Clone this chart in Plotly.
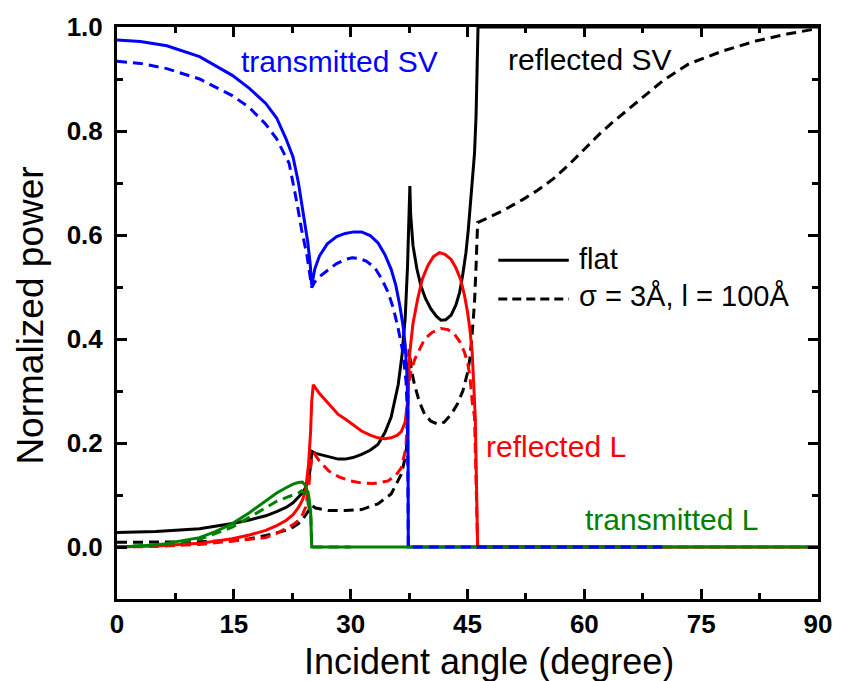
import plotly.graph_objects as go

# Incident angle (degree) and normalized power for each mode.
# "flat" = smooth interface, "rough" = sigma 3 A, correlation length 100 A.

# transmitted SV
tsv_flat_x = [0, 3, 6.4, 10.6, 14.8, 17, 19.1, 20.5, 21.7, 22.6, 23.3, 24.0, 24.5, 24.8, 25.0,
              25.4, 26.0, 27.0, 28.2, 29.3, 30.4, 31.4, 32.5, 33.5, 34.4, 35.2, 35.8, 36.3, 36.7,
              37.0, 37.2, 37.35, 37.4, 50, 60, 70]
tsv_flat_y = [0.975, 0.972, 0.964, 0.943, 0.907, 0.882, 0.853, 0.825, 0.785, 0.75, 0.70, 0.63,
              0.585, 0.545, 0.503, 0.535, 0.56, 0.583, 0.597, 0.603, 0.606, 0.606, 0.599, 0.585,
              0.562, 0.534, 0.503, 0.465, 0.428, 0.388, 0.34, 0.27, 0.0, 0.0, 0.0, 0.0]

tsv_rough_x = [0, 3, 6.4, 10.6, 14.8, 17, 19.1, 20.5, 21.5, 22.1, 23.1, 23.7, 24.4, 24.8, 25.0,
               25.4, 26.0, 27.2, 28.2, 29.3, 30.2, 31.0, 32.0, 33.1, 34.0, 34.8, 35.5, 36.1, 36.7,
               37.1, 37.3, 37.4, 50, 60, 70]
tsv_rough_y = [0.934, 0.93, 0.92, 0.90, 0.868, 0.845, 0.813, 0.785, 0.755, 0.738, 0.662, 0.61,
               0.56, 0.525, 0.499, 0.51, 0.52, 0.534, 0.545, 0.553, 0.556, 0.555, 0.55, 0.537,
               0.515, 0.49, 0.458, 0.42, 0.375, 0.32, 0.25, 0.0, 0.0, 0.0, 0.0]

# reflected L
rl_flat_x = [0, 5, 10.6, 14.8, 17, 19.1, 20.5, 21.7, 22.6, 23.3, 23.8, 24.2, 24.6, 24.85, 25.0,
             25.2, 26.0, 27.0, 28.4, 29.3, 30.3, 31.4, 32.5, 33.5, 34.4, 35.2, 36.0, 36.5, 37.0,
             37.3, 37.6, 38.0, 38.6, 39.2, 39.9, 40.6, 41.4, 42.1, 42.9, 43.5, 44.1, 44.6, 45.0,
             45.3, 45.6, 45.8, 46.0, 46.3, 60, 75, 90]
rl_flat_y = [0.0, 0.002, 0.007, 0.016, 0.023, 0.032, 0.041, 0.051, 0.062, 0.076, 0.09, 0.108,
             0.16, 0.22, 0.28, 0.312, 0.295, 0.278, 0.255, 0.246, 0.235, 0.223, 0.215, 0.21,
             0.208, 0.21, 0.215, 0.222, 0.24, 0.28, 0.375, 0.43, 0.477, 0.515, 0.541, 0.558,
             0.566, 0.563, 0.553, 0.537, 0.515, 0.485, 0.452, 0.42, 0.375, 0.32, 0.248, 0.0,
             0.0, 0.0, 0.0]

rl_rough_x = [0, 5, 10.6, 14.8, 17, 19.1, 20.5, 21.7, 22.6, 23.3, 23.8, 24.2, 24.6, 24.9, 25.1,
              25.3, 26.0, 27.2, 28.5, 30.0, 31.4, 33.0, 34.8, 35.8, 36.5, 37.1, 37.4, 37.6, 38.2,
              39.0, 39.5, 40.5, 41.6, 42.5, 43.3, 44.0, 44.6, 45.0, 45.3, 45.6, 45.9, 46.3, 60,
              75, 90]
rl_rough_y = [0.0, 0.001, 0.005, 0.011, 0.014, 0.018, 0.026, 0.035, 0.043, 0.051, 0.062, 0.076,
              0.114, 0.16, 0.178, 0.18, 0.165, 0.146, 0.135, 0.127, 0.123, 0.122, 0.127, 0.138,
              0.152, 0.19, 0.30, 0.33, 0.36, 0.385, 0.40, 0.413, 0.42, 0.418, 0.41, 0.395,
              0.375, 0.355, 0.33, 0.28, 0.25, 0.0, 0.0, 0.0, 0.0]

# reflected SV
rsv_flat_x = [0, 5, 10.6, 14.8, 17, 19.1, 20.5, 21.7, 22.6, 23.3, 23.8, 24.2, 24.6, 24.9, 25.0,
              25.5, 26.0, 27.2, 28.4, 29.3, 30.3, 31.4, 32.5, 33.5, 34.4, 35.2, 36.1, 36.6, 37.0,
              37.3, 37.5, 37.6, 37.7, 38.0, 38.5, 39.0, 39.6, 40.3, 41.0, 41.6, 42.2, 42.9, 43.5,
              44.0, 44.4, 44.8, 45.1, 45.4, 45.7, 45.9, 46.1, 46.25, 46.35, 60, 75, 90]
rsv_flat_y = [0.028, 0.03, 0.035, 0.045, 0.052, 0.06, 0.068, 0.076, 0.085, 0.095, 0.104, 0.114,
              0.13, 0.16, 0.184, 0.18, 0.178, 0.174, 0.169, 0.169, 0.172, 0.178, 0.186, 0.197,
              0.22, 0.25, 0.312, 0.37, 0.44, 0.54, 0.65, 0.694, 0.64, 0.58, 0.535, 0.503, 0.478,
              0.458, 0.444, 0.436, 0.437, 0.446, 0.465, 0.49, 0.525, 0.566, 0.61, 0.662, 0.72,
              0.757, 0.83, 0.92, 1.0, 1.0, 1.0, 1.0]

rsv_rough_x = [0, 5, 10.6, 14.8, 17, 19.1, 20.5, 21.7, 22.6, 23.3, 23.8, 24.2, 24.6, 25.0, 25.5,
               27.2, 29.3, 31.4, 33.5, 35.2, 36.5, 37.1, 37.3, 37.45, 37.5, 37.8, 38.2, 38.8,
               39.5, 40.3, 41.2, 42.0, 42.9, 43.7, 44.4, 45.0, 45.3, 45.6, 45.9, 46.1, 46.3,
               47.2, 49.7, 52.3, 54.0, 56.0, 58.0, 60.0, 62.0, 63.5, 65.0, 67.6, 70.1, 73.4,
               77.8, 82.0, 86.2, 90]
rsv_rough_y = [0.009, 0.009, 0.01, 0.012, 0.016, 0.022, 0.027, 0.032, 0.038, 0.045, 0.052, 0.06,
               0.07, 0.08, 0.075, 0.07, 0.07, 0.072, 0.083, 0.102, 0.14, 0.178, 0.22, 0.36, 0.38,
               0.34, 0.312, 0.28, 0.255, 0.242, 0.236, 0.24, 0.255, 0.275, 0.30, 0.335, 0.362,
               0.41, 0.47, 0.54, 0.624, 0.63, 0.648, 0.67, 0.686, 0.708, 0.735, 0.765, 0.795,
               0.815, 0.834, 0.866, 0.897, 0.929, 0.954, 0.973, 0.987, 0.997]

# transmitted L
tl_flat_x = [0, 3, 6, 8.5, 10.6, 12.7, 14.8, 17, 19.1, 20.5, 21.7, 22.6, 23.3, 23.8, 24.2, 24.6,
             24.85, 25.0, 60, 90]
tl_flat_y = [0.0, 0.002, 0.006, 0.012, 0.018, 0.03, 0.045, 0.066, 0.089, 0.104, 0.114, 0.121,
             0.124, 0.125, 0.118, 0.10, 0.07, 0.0, 0.0, 0.0]

tl_rough_x = [0, 6, 10.6, 14.8, 17, 19.1, 20.5, 21.7, 22.6, 23.3, 23.7, 24.1, 24.4, 24.7, 24.9,
              25.0, 30]
tl_rough_y = [0.0, 0.005, 0.015, 0.038, 0.057, 0.076, 0.088, 0.095, 0.1, 0.104, 0.108, 0.104,
              0.095, 0.075, 0.057, 0.0, 0.0]

x_ticks = [0, 15, 30, 45, 60, 75, 90]
y_ticks = [0.0, 0.2, 0.4, 0.6, 0.8, 1.0]

BLUE, RED, GREEN, BLACK = "#0000ff", "#ff0000", "#008000", "#000000"
DASH = "10px,6px"
LW = 3

W, H = 844, 681
ML, MR, MT, MB = 117, 21, 23, 82
PW, PH = W - ML - MR, H - MT - MB


def paper_x(px):
    return (px - ML) / PW


def paper_y(py):
    return (H - MB - py) / PH


fig = go.Figure()


def add(x, y, color, dashed):
    fig.add_trace(go.Scatter(
        x=x, y=y, mode="lines", showlegend=False, hoverinfo="skip",
        line=dict(color=color, width=LW, dash=DASH if dashed else "solid"),
    ))


add(rsv_flat_x, rsv_flat_y, BLACK, False)
add(rsv_rough_x, rsv_rough_y, BLACK, True)
add(rl_flat_x, rl_flat_y, RED, False)
add(rl_rough_x, rl_rough_y, RED, True)
add(tsv_flat_x, tsv_flat_y, BLUE, False)
add(tl_flat_x, tl_flat_y, GREEN, False)
add(tl_rough_x, tl_rough_y, GREEN, True)
add(tsv_rough_x, tsv_rough_y, BLUE, True)

FONT = "Liberation Sans, Arial, sans-serif"
axis_common = dict(
    showline=True, linewidth=3, linecolor="black", mirror="ticks",
    ticks="inside", ticklen=10, tickwidth=3, tickcolor="black",
    showgrid=False, zeroline=False,
    tickfont=dict(family=FONT, size=26, color="black", weight="bold"),
)

fig.update_xaxes(range=[0, 90], tickvals=x_ticks, ticklabelstandoff=0,
                 minor=dict(dtick=7.5, ticks="inside", ticklen=6, tickwidth=3,
                            tickcolor="black", showgrid=False),
                 **axis_common)
fig.update_yaxes(range=[-0.1, 1.0], tickvals=y_ticks, tickformat=".1f", ticklabelstandoff=6,
                 minor=dict(dtick=0.1, ticks="inside", ticklen=6, tickwidth=3,
                            tickcolor="black", showgrid=False),
                 **axis_common)

annotations = [
    # axis titles
    dict(text="Incident angle (degree)", x=paper_x(492), y=paper_y(662),
         xanchor="center", yanchor="middle", font=dict(size=36)),
    dict(text="Normalized power", x=paper_x(30), y=paper_y(314), textangle=-90,
         xanchor="center", yanchor="middle", font=dict(size=37)),
    # curve labels
    dict(text="transmitted SV", x=paper_x(240), y=paper_y(58), xanchor="left",
         yanchor="middle", font=dict(size=30, color=BLUE)),
    dict(text="reflected SV", x=paper_x(509), y=paper_y(56), xanchor="left",
         yanchor="middle", font=dict(size=30, color=BLACK)),
    dict(text="reflected L", x=paper_x(487), y=paper_y(445), xanchor="left",
         yanchor="middle", font=dict(size=30, color=RED)),
    dict(text="transmitted L", x=paper_x(586), y=paper_y(519), xanchor="left",
         yanchor="middle", font=dict(size=30, color=GREEN)),
    # legend text
    dict(text="flat", x=paper_x(580), y=paper_y(257), xanchor="left",
         yanchor="middle", font=dict(size=29)),
    dict(text="σ = 3Å, l = 100Å", x=paper_x(580), y=paper_y(294), xanchor="left",
         yanchor="middle", font=dict(size=29)),
]
for a in annotations:
    a.update(xref="paper", yref="paper", showarrow=False)
    a["font"].setdefault("color", "black")
    a["font"]["family"] = FONT

shapes = [
    dict(type="line", xref="paper", yref="paper", x0=paper_x(501), x1=paper_x(572),
         y0=paper_y(258), y1=paper_y(258), line=dict(color="black", width=LW)),
    dict(type="line", xref="paper", yref="paper", x0=paper_x(501), x1=paper_x(572),
         y0=paper_y(297), y1=paper_y(297), line=dict(color="black", width=LW, dash="9px,5px")),
]

fig.update_layout(
    width=W, height=H,
    margin=dict(l=ML, r=MR, t=MT, b=MB, pad=0),
    paper_bgcolor="white", plot_bgcolor="white",
    annotations=annotations, shapes=shapes,
    font=dict(family=FONT, color="black"),
)

fig.write_html("out.html")
